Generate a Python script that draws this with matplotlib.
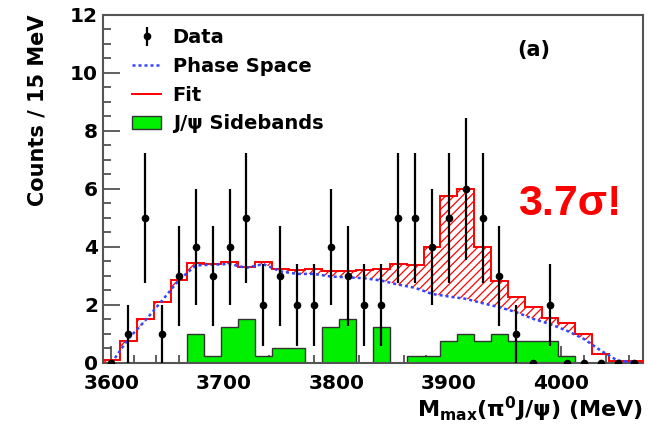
import numpy as np
import matplotlib
matplotlib.use("Agg")
import matplotlib.pyplot as plt
from matplotlib.patches import Patch
from matplotlib.lines import Line2D
from matplotlib.ticker import MultipleLocator

# DATA ########################################################################

bin_width = 15.0
bin_centers = 3600 + bin_width * np.arange(32)

data_counts = [0, 1, 5, 1, 3, 4, 3, 4, 5, 2, 3, 2, 2, 4, 3, 2,
               2, 5, 5, 4, 5, 6, 5, 3, 1, 0, 2, 0, 0, 0, 0, 0]

fit_values = [0.1, 0.75, 1.52, 2.09, 2.86, 3.44, 3.41, 3.49, 3.30, 3.49, 3.24, 3.20, 3.24, 3.16, 3.16, 3.22,
              3.24, 3.41, 3.36, 3.99, 5.77, 6.01, 4.00, 2.84, 2.29, 1.92, 1.55, 1.37, 1.00, 0.31, 0.08, 0.06]

phase_space = [0.0, 0.83, 1.46, 2.15, 2.86, 3.36, 3.39, 3.41, 3.28, 3.41, 3.16, 3.07, 3.07, 2.98, 2.95, 2.92,
               2.84, 2.70, 2.59, 2.38, 2.29, 2.21, 2.06, 1.92, 1.75, 1.52, 1.34, 1.11, 0.83, 0.43, 0.08, 0.02]

sidebands = [0, 0, 0, 0, 0, 1.0, 0.25, 1.25, 1.5, 0.25, 0.5, 0.5, 0, 1.25, 1.5, 0,
             1.25, 0, 0.25, 0.25, 0.75, 1.0, 0.75, 1.0, 0.75, 0.75, 0.75, 0.25, 0, 0, 0, 0]

# PLOT ########################################################################

plt.rcParams['font.family'] = ['DejaVu Sans']
plt.rcParams['font.weight'] = 'bold'
plt.rcParams['mathtext.fontset'] = 'dejavusans'
plt.rcParams['mathtext.default'] = 'bf'
plt.rcParams['hatch.linewidth'] = 0.9

edges = np.append(bin_centers - bin_width / 2, bin_centers[-1] + bin_width / 2)
data_counts = np.array(data_counts, dtype=float)
fit_values = np.array(fit_values)
phase_space = np.array(phase_space)
sidebands = np.array(sidebands)

fig = plt.figure(figsize=(6.48, 4.25), dpi=100)
ax = fig.add_axes([0.159, 0.146, 0.833, 0.819])

# sidebands (green filled histogram)
ax.stairs(sidebands, edges, fill=True, facecolor='#00f000', edgecolor='#333333', linewidth=1.0, zorder=2)

# hatched area between phase space and fit
xf = np.linspace(edges[0], edges[-1], 2000)
idx = np.clip(np.searchsorted(edges, xf, side='right') - 1, 0, len(fit_values) - 1)
fit_fine = fit_values[idx]
ps_fine = np.interp(xf, bin_centers, phase_space)
ax.fill_between(xf, ps_fine, fit_fine, where=fit_fine > ps_fine, facecolor='none',
                edgecolor='red', hatch='////', linewidth=0, zorder=3)

# fit histogram and phase space curve
ax.stairs(fit_values, edges, color='red', linewidth=1.4, zorder=4)
ax.plot(bin_centers, phase_space, color='#3344ff', linestyle=(0, (1.2, 1.2)), linewidth=1.8, zorder=5)

# data points
eb = ax.errorbar(bin_centers, data_counts, yerr=np.sqrt(data_counts), fmt='o', color='black',
                 markersize=4.5, elinewidth=1.6, capsize=0, zorder=6)

ax.set_xlim(edges[0], edges[-1])
ax.set_ylim(0, 12)

ax.xaxis.set_major_locator(MultipleLocator(100))
ax.xaxis.set_minor_locator(MultipleLocator(20))
ax.yaxis.set_major_locator(MultipleLocator(2))
ax.yaxis.set_minor_locator(MultipleLocator(0.5))
ax.tick_params(which='both', direction='in', top=False, right=False, labelsize=14.5, width=1.2, color='#444444')
ax.tick_params(which='major', length=12)
ax.tick_params(which='minor', length=6)
ax.tick_params(axis='x', pad=8)
for sp in ax.spines.values():
    sp.set_linewidth(1.5)
    sp.set_color('#555555')

ax.set_ylabel('Counts / 15 MeV', fontsize=15, fontweight='bold', loc='top', labelpad=16)
ax.set_xlabel('M$_{max}$(π$^{0}$J/ψ) (MeV)', fontsize=16, fontweight='bold', loc='right', labelpad=1)

handles = [
    eb,
    Line2D([0], [0], color='#3344ff', linestyle=(0, (1.2, 1.2)), linewidth=1.8),
    Line2D([0], [0], color='red', linewidth=1.4),
    Patch(facecolor='#00f000', edgecolor='#333333', linewidth=1.0),
]
labels = ['Data', 'Phase Space', 'Fit', 'J/ψ Sidebands']
ax.legend(handles, labels, loc='upper left', bbox_to_anchor=(0.022, 1.012), frameon=False,
          handlelength=1.45, handletextpad=0.62, labelspacing=0.5,
          prop={'weight': 'bold', 'size': 14})

ax.text(0.798, 0.90, '(a)', transform=ax.transAxes, fontsize=15, fontweight='bold', ha='center', va='center')
ax.text(0.865, 0.457, '3.7σ!', transform=ax.transAxes, fontsize=31, fontweight='bold',
        family='Liberation Sans', color='red', ha='center', va='center')

# SAVE ########################################################################

fig.savefig('out.png', dpi=100)
